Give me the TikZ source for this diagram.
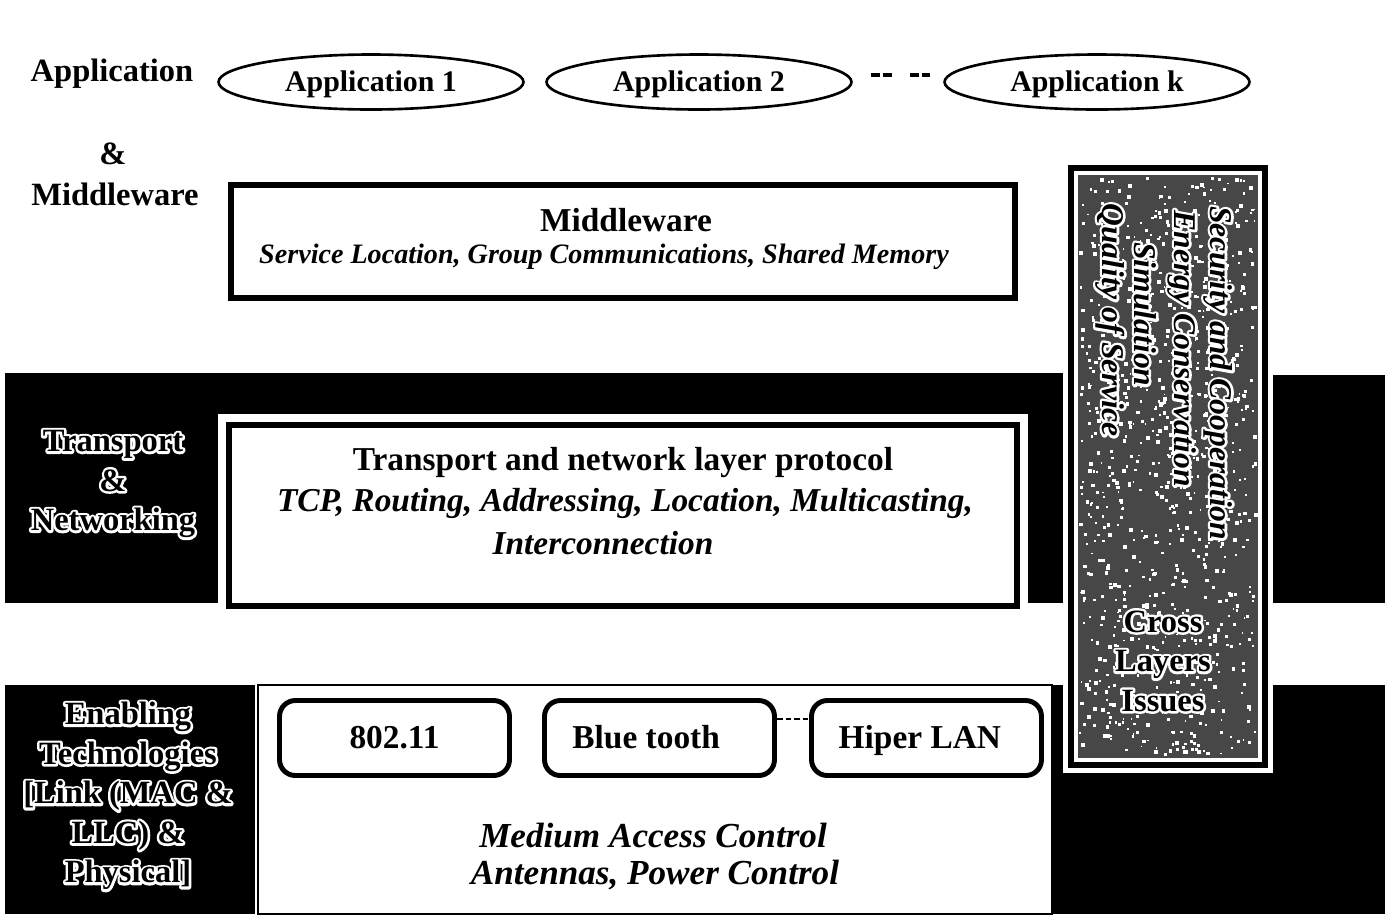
\documentclass[tikz,border=0pt]{standalone}
\usepackage{fontspec}
\setmainfont{Liberation Serif}
\usetikzlibrary{shapes.geometric}

% black letters with a white rim, for labels set on dark ground:
% a white stroked copy of the glyphs lies under the normal black text
\newcommand\rimtext[1]{\rlap{\special{pdf:literal direct 1 1 1 RG 2.8 w 1 j 1 Tr}#1\special{pdf:literal direct 0 Tr}}#1}

\tikzset{
  side/.style={inner sep=0pt, align=center, font=\bfseries\fontsize{18.5}{22.5}\selectfont},
  app/.style={draw, ellipse, line width=1.5pt, minimum width=6.1cm, minimum height=1.1cm,
    inner sep=0pt, text height=12pt, text depth=0.7pt,
    font=\bfseries\fontsize{17}{20}\selectfont},
  layerbox/.style={draw, line width=3.4pt, fill=white, inner sep=0pt},
  techbox/.style={draw, line width=2.8pt, rounded corners=9pt, fill=white,
    minimum width=4.6cm, minimum height=1.5cm, inner sep=0pt,
    text height=13pt, text depth=0.6pt,
    font=\bfseries\fontsize{19}{22}\selectfont},
  head/.style={inner sep=0pt, font=\bfseries\fontsize{19}{23}\selectfont},
  detail/.style={inner sep=0pt, font=\bfseries\itshape\fontsize{19}{23}\selectfont},
  vert/.style={rotate=-90, anchor=west, inner sep=0pt,
    font=\bfseries\itshape\fontsize{18}{20}\selectfont},
  band/.style={fill=black},
}

\begin{document}
\begin{tikzpicture}[x=0.02cm, y=-0.02cm]
\useasboundingbox (0,0) rectangle (1391,914);
\fill[white] (0,0) rectangle (1391,914);

% ---------- dark layer bands ----------
\fill[band] (5,373) rectangle (1063,603);
\fill[band] (1272,375) rectangle (1385,603);
\fill[band] (5,685) rectangle (255,914);
\fill[band] (1052,685) rectangle (1385,914);

% ---------- application & middleware layer ----------
\node[side] (lapp) at (112,74) {Application};
\node[side] (lamp) at (113,154) {\&};
\node[side] (lmid) at (115,194) {Middleware};

\node[app] (app1) at (371,82) {Application 1};
\node[app] (app2) at (699,82) {Application 2};
\node[app] (appk) at (1097,82) {Application k};
\draw[line width=2.2pt, dash pattern=on 5.1pt off 1.7pt on 5.1pt off 10.2pt, dash phase=11.9pt]
  ([yshift=0.14cm]app2.east) -- ([yshift=0.14cm]appk.west);

\node[layerbox, minimum width=15.7cm, minimum height=2.26cm] (mw) at (623,241.5) {};
\node[head] (mwt) at (626,220) {Middleware};
\node[detail, font=\bfseries\itshape\fontsize{16}{19}\selectfont] (mws) at (604,257)
  {Service Location, Group Communications, Shared Memory};

% ---------- transport & networking layer ----------
\node[side] (ltr) at (113,484) {\rimtext{Transport}\\\rimtext{\&}\\\rimtext{Networking}};

\fill[white] (218,414) rectangle (1028,617);
\node[layerbox, minimum width=15.76cm, minimum height=3.62cm] (tr) at (623,515.5) {};
\node[head] (trt) at (623,463) {Transport and network layer protocol};
\node[detail] (trs1) at (625,503) {TCP, Routing, Addressing, Location, Multicasting,};
\node[detail] (trs2) at (603,543) {Interconnection};

% ---------- enabling technologies layer ----------
\node[side] (len) at (128,796)
  {\rimtext{Enabling}\\\rimtext{Technologies}\\\rimtext{[Link (MAC \&}\\\rimtext{LLC) \&}\\\rimtext{Physical]}};

\fill[white, draw=black, line width=0.9pt] (258,685) rectangle (1052,914);
\node[techbox] (t1) at (394.5,738) {802.11};
\node[techbox] (t2) at (659.5,738) {Blue tooth\hspace*{0.8em}};
\node[techbox] (t3) at (926.5,738) {Hiper LAN\hspace*{0.4em}};
\draw[line width=1.3pt, dash pattern=on 3.2pt off 1.7pt]
  ([yshift=0.38cm]t2.east) -- ([yshift=0.38cm]t3.west);
\node[detail, font=\bfseries\itshape\fontsize{20}{23}\selectfont] (mac) at (653,835) {Medium Access Control};
\node[detail, font=\bfseries\itshape\fontsize{20}{23}\selectfont] (ant) at (655,875) {Antennas, Power Control};

% ---------- cross layer column ----------
\fill[white] (1063,159) rectangle (1273,773);
\draw[line width=3.4pt] (1071,168) rectangle (1265,765);
\fill[black!72] (1078,175) rectangle (1258,758);
\pgfmathsetseed{7}
\foreach \i in {1,...,900}{
  \pgfmathsetmacro\sx{1079+175*rnd}
  \pgfmathsetmacro\sy{176+578*rnd}
  \pgfmathsetmacro\ss{1.5+2.5*rnd}
  \fill[white] (\sx,\sy) rectangle ++(\ss,\ss);
}
\node[vert] (sec) at (1218,206) {\rimtext{Security and Cooperation}};
\node[vert] (ene) at (1182,210) {\rimtext{Energy Conservation}};
\node[vert] (sim) at (1145,242) {\rimtext{Simulation}};
\node[vert] (qos) at (1110,203) {\rimtext{Quality of Service}};
\node[side] (cli) at (1163,661) {\rimtext{Cross}\\\rimtext{Layers}\\\rimtext{Issues}};
\end{tikzpicture}
\end{document}
